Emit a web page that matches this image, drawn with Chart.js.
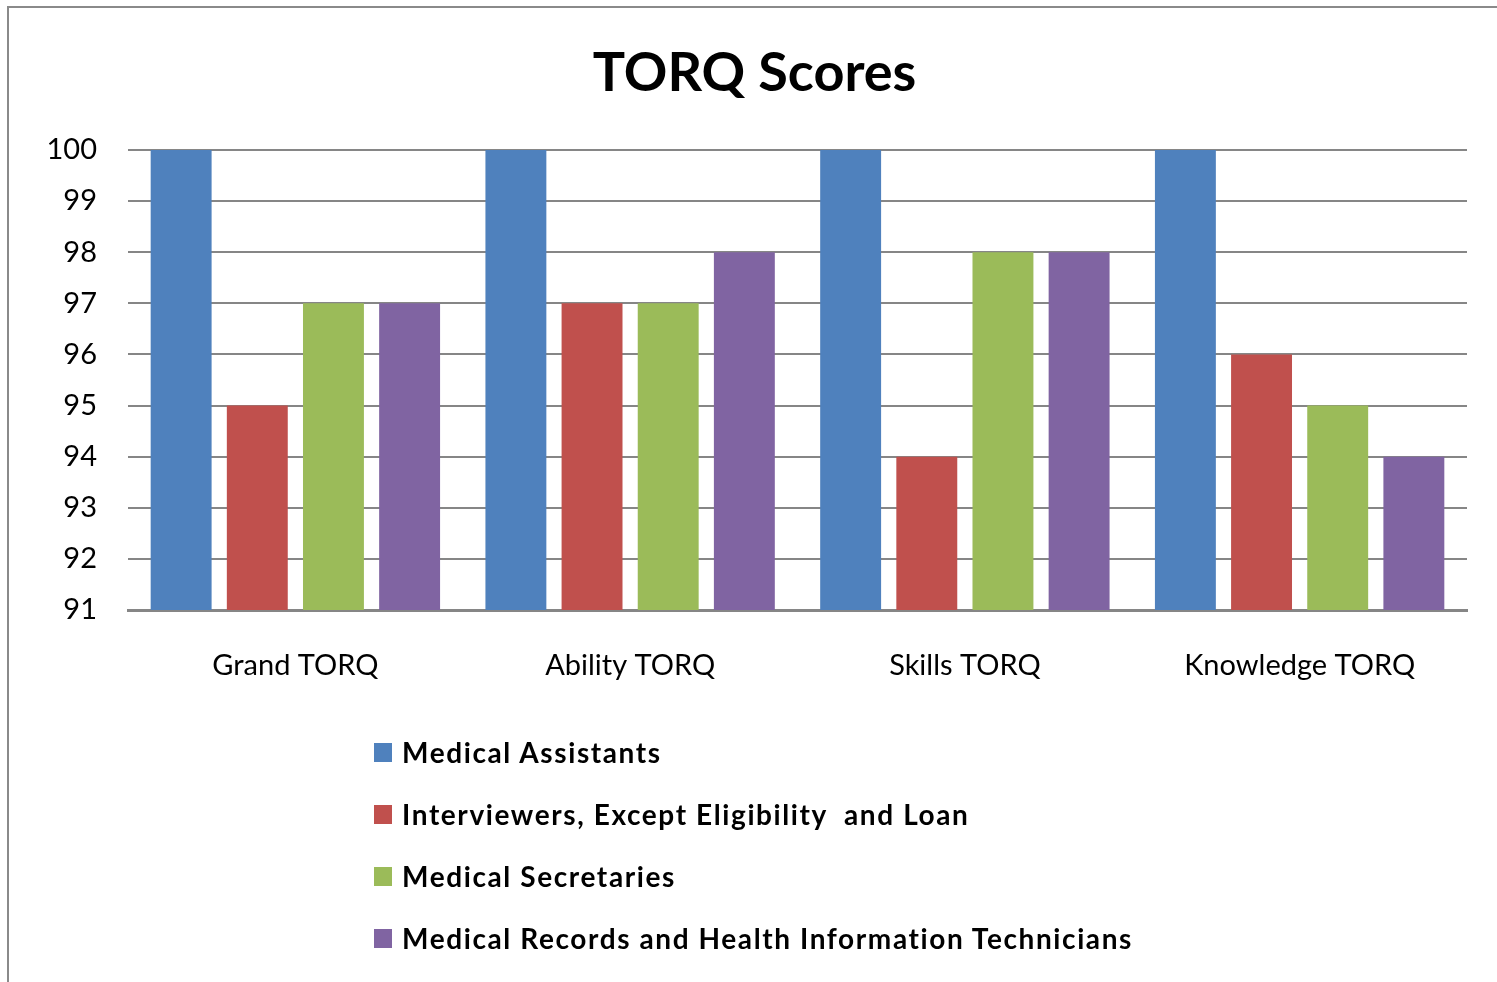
<!DOCTYPE html>
<html>
<head>
<meta charset="utf-8">
<script src="https://cdn.jsdelivr.net/npm/chart.js@4.4.0/dist/chart.umd.min.js"></script>
<style>
  html, body { margin: 0; padding: 0; background: #fff; }
  #wrap { position: relative; width: 1497px; height: 982px; overflow: hidden; }
  #frame { position: absolute; left: 7px; top: 6px; width: 1600px; height: 1100px;
           border-left: 2px solid #8a8a8a; border-top: 2px solid #8a8a8a; box-sizing: border-box; }
  canvas { position: absolute; left: 0; top: 0; }
  #legend { position: absolute; left: 374px; top: 721px; font-family: Lato, "Noto Sans", sans-serif;
            font-weight: bold; font-size: 28px; letter-spacing: 1.6px; color: #000; }
  .item { height: 62px; display: flex; align-items: center; position: relative; }
  .sw { width: 18px; height: 19px; margin-right: 10px; }
</style>
</head>
<body>
<div id="wrap">
  <div id="frame"></div>
  <canvas id="c" width="1497" height="982"></canvas>
  <div id="legend"></div>
</div>
<script>
const categories = ["Grand TORQ", "Ability TORQ", "Skills TORQ", "Knowledge TORQ"];
const seriesNames = [
  "Medical Assistants",
  "Interviewers, Except Eligibility  and Loan",
  "Medical Secretaries",
  "Medical Records and Health Information Technicians"
];
const medicalAssistants = [100, 100, 100, 100];
const interviewers = [95, 97, 94, 96];
const medicalSecretaries = [97, 97, 98, 95];
const medicalRecords = [97, 98, 98, 94];
const seriesColors = ["#4F81BD", "#C0504D", "#9BBB59", "#8064A2"];
const yMin = 91, yMax = 100;

const seriesValues = [medicalAssistants, interviewers, medicalSecretaries, medicalRecords];

const chart = new Chart(document.getElementById('c'), {
  type: 'bar',
  data: {
    labels: categories,
    datasets: seriesValues.map((vals, i) => ({
      label: seriesNames[i],
      data: vals,
      backgroundColor: seriesColors[i],
      borderWidth: 0,
      barPercentage: 0.8,
      categoryPercentage: 0.91
    }))
  },
  options: {
    responsive: false,
    animation: false,
    layout: { padding: { left: 42, right: 30, top: 0, bottom: 272 } },
    plugins: {
      legend: { display: false },
      tooltip: { enabled: false },
      title: {
        display: true,
        text: 'TORQ Scores',
        color: '#000',
        font: { family: 'Lato', weight: 'bold', size: 54, lineHeight: 1.2 },
        padding: { top: 41, bottom: 44.2 }
      }
    },
    scales: {
      x: {
        grid: { display: false, drawTicks: false },
        border: { display: true, color: '#868686', width: 3 },
        ticks: { color: '#000', font: { family: 'Lato', size: 29 }, padding: 38, maxRotation: 0 },
        afterFit: (s) => { s.height = 100; }
      },
      y: {
        min: yMin, max: yMax,
        grid: { color: '#868686', lineWidth: 2, drawTicks: false },
        border: { display: false },
        ticks: { stepSize: 1, color: '#000', font: { family: 'Lato', size: 29 }, padding: 31 },
        afterFit: (s) => { s.width = 86; }
      }
    }
  }
});

const legendEl = document.getElementById('legend');
chart.data.datasets.forEach(ds => {
  const row = document.createElement('div');
  row.className = 'item';
  const sw = document.createElement('div');
  sw.className = 'sw';
  sw.style.background = ds.backgroundColor;
  const t = document.createElement('span');
  t.textContent = ds.label;
  t.style.whiteSpace = 'pre';
  row.appendChild(sw);
  row.appendChild(t);
  legendEl.appendChild(row);
});
</script>
</body>
</html>
